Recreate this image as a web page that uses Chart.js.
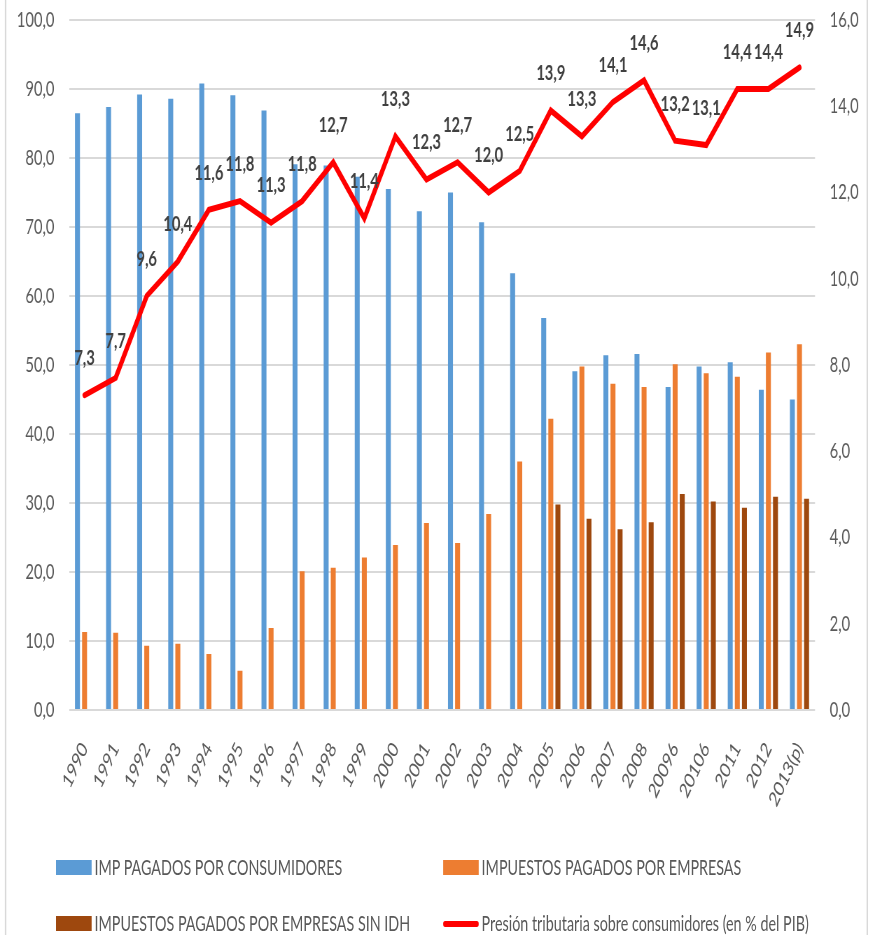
<!DOCTYPE html>
<html lang="es">
<head>
<meta charset="utf-8">
<title>Impuestos pagados por consumidores y empresas</title>
<script src="https://cdn.jsdelivr.net/npm/chart.js@4.4.1/dist/chart.umd.min.js"></script>
<style>
  html, body { margin: 0; padding: 0; background: #fff; overflow: hidden; }
  /* el original está comprimido en horizontal: se dibuja ancho y se aprieta */
  #lienzo { position: absolute; left: 0; top: 0; width: 1246px; height: 935px;
            transform: scaleX(0.7); transform-origin: 0 0; font-family: Lato, sans-serif; }
  #marco { position: absolute; left: 7px; top: -5px; width: 1229px; height: 950px;
           border-left: 2px solid #d9d9d9; border-right: 2px solid #d9d9d9; }
  #grafico { position: absolute; left: 0; top: 0; }
  .ley { position: absolute; font-size: 22px; line-height: 22px; color: #595959; white-space: nowrap;
         transform: scaleX(0.93); transform-origin: 0 0; }
  .marca { position: absolute; }
</style>
</head>
<body>
<div id="lienzo">
  <div id="marco"></div>
  <canvas id="grafico" width="1246" height="830"></canvas>
  <div id="leyenda"></div>
</div>
<script>
/* categorías y series */
const anios = ['1990', '1991', '1992', '1993', '1994', '1995', '1996', '1997', '1998', '1999',
  '2000', '2001', '2002', '2003', '2004', '2005', '2006', '2007', '2008', '20096', '20106',
  '2011', '2012', '2013(p)'];

const impConsumidores = [86.5, 87.4, 89.2, 88.6, 90.8, 89.1, 86.9, 79.1, 78.9, 77.3, 75.5, 72.3,
  75.0, 70.7, 63.3, 56.8, 49.1, 51.4, 51.6, 46.8, 49.8, 50.4, 46.4, 45.0];

const impEmpresas = [11.3, 11.2, 9.3, 9.6, 8.1, 5.7, 11.9, 20.1, 20.6, 22.1, 23.9, 27.1,
  24.2, 28.4, 36.0, 42.2, 49.8, 47.3, 46.8, 50.1, 48.8, 48.3, 51.8, 53.0];

const impEmpresasSinIdh = [null, null, null, null, null, null, null, null, null, null, null, null,
  null, null, null, 29.8, 27.7, 26.2, 27.2, 31.3, 30.2, 29.3, 30.9, 30.6];

const presionTributaria = [7.3, 7.7, 9.6, 10.4, 11.6, 11.8, 11.3, 11.8, 12.7, 11.4, 13.3, 12.3,
  12.7, 12.0, 12.5, 13.9, 13.3, 14.1, 14.6, 13.2, 13.1, 14.4, 14.4, 14.9];

const rangoIzq = [0, 100, 10];   // min, max, paso
const rangoDer = [0, 16, 2];

const coma = v => Number(v).toFixed(1).replace('.', ',');

/* etiquetas de datos encima de la línea roja */
const etiquetasLinea = {
  id: 'etiquetasLinea',
  afterDatasetsDraw(chart) {
    const meta = chart.getDatasetMeta(3);
    const ctx = chart.ctx;
    ctx.save();
    ctx.font = 'bold 21px Lato';
    ctx.fillStyle = '#404040';
    ctx.textAlign = 'center';
    ctx.textBaseline = 'middle';
    meta.data.forEach((pt, i) => {
      ctx.fillText(coma(presionTributaria[i]), pt.x, pt.y - 37);
    });
    ctx.restore();
  }
};

const fuenteEje = { family: 'Lato', size: 21 };

// ancho fijo del eje y sin el relleno vertical que añade el padding de los ticks
const ajusteEje = ancho => s => { s.width = ancho; s.paddingTop = 0; s.paddingBottom = 0; };

const grafico = new Chart(document.getElementById('grafico'), {
  type: 'bar',
  data: {
    labels: anios,
    datasets: [
      { label: 'IMP PAGADOS POR CONSUMIDORES', data: impConsumidores,
        backgroundColor: '#5B9BD5', order: 1 },
      { label: 'IMPUESTOS PAGADOS POR EMPRESAS', data: impEmpresas,
        backgroundColor: '#ED7D31', order: 1 },
      { label: 'IMPUESTOS PAGADOS POR EMPRESAS SIN IDH', data: impEmpresasSinIdh,
        backgroundColor: '#9E480E', order: 1 },
      { label: 'Presión tributaria sobre consumidores (en % del PIB)', data: presionTributaria,
        type: 'line', yAxisID: 'y2', borderColor: '#FF0000', backgroundColor: '#FF0000',
        borderWidth: 6, pointRadius: 0, borderCapStyle: 'round', tension: 0, order: 0 }
    ]
  },
  options: {
    responsive: false,
    animation: false,
    barPercentage: 0.7,
    categoryPercentage: 0.685,
    layout: { padding: { top: 20, left: 0, right: 0, bottom: 0 } },
    plugins: {
      legend: { display: false },
      tooltip: { enabled: false }
    },
    scales: {
      x: {
        offset: true,
        grid: { display: false },
        border: { display: false },
        ticks: {
          color: '#595959', font: fuenteEje, autoSkip: false,
          minRotation: 57, maxRotation: 57, padding: 20
        },
        afterFit: s => { s.height = 120; }
      },
      y: {
        position: 'left',
        min: rangoIzq[0], max: rangoIzq[1],
        grid: { color: '#d9d9d9', lineWidth: 2, drawTicks: false },
        border: { display: false },
        ticks: { stepSize: rangoIzq[2], color: '#595959', font: fuenteEje, padding: 21,
                 callback: v => coma(v) },
        afterFit: ajusteEje(98.6)
      },
      y2: {
        position: 'right',
        min: rangoDer[0], max: rangoDer[1],
        grid: { drawOnChartArea: false, drawTicks: false },
        border: { display: false },
        ticks: { stepSize: rangoDer[2], color: '#595959', font: fuenteEje, padding: 21,
                 callback: v => coma(v) },
        afterFit: ajusteEje(81.7)
      }
    }
  },
  plugins: [etiquetasLinea]
});

/* leyenda en dos columnas, construida con los datasets */
const huecos = [
  { x: 80, y: 868 }, { x: 633, y: 868 },
  { x: 80, y: 924 }, { x: 633, y: 924 }
];
const leyenda = document.getElementById('leyenda');
grafico.data.datasets.forEach((ds, i) => {
  const h = huecos[i];
  const marca = document.createElement('div');
  marca.className = 'marca';
  marca.style.left = h.x + 'px';
  marca.style.width = '51px';
  marca.style.background = ds.backgroundColor;
  if (ds.type === 'line') {
    marca.style.top = (h.y - 3) + 'px';
    marca.style.height = '6px';
    marca.style.borderRadius = '3px';
  } else {
    marca.style.top = (h.y - 8) + 'px';
    marca.style.height = '15px';
  }
  leyenda.appendChild(marca);
  const txt = document.createElement('div');
  txt.className = 'ley';
  txt.style.left = (h.x + 55) + 'px';
  txt.style.top = (h.y - 11.6) + 'px';
  txt.textContent = ds.label;
  leyenda.appendChild(txt);
});
</script>
</body>
</html>
